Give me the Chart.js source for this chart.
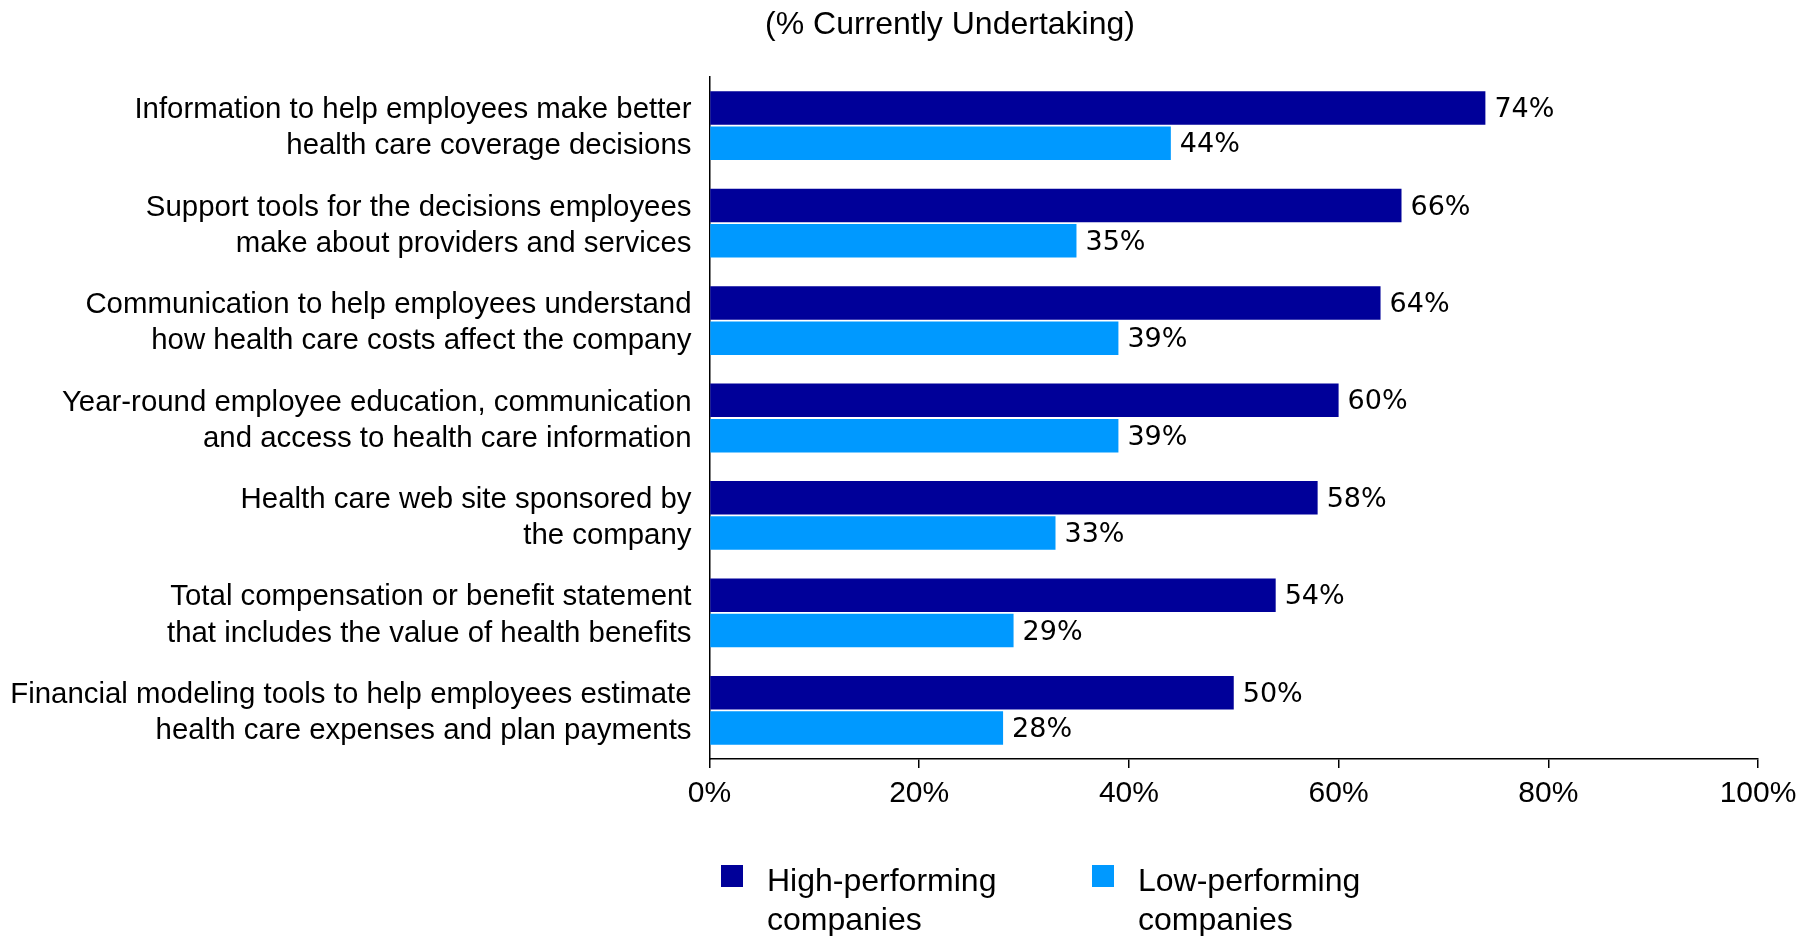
<!DOCTYPE html>
<html><head><meta charset="utf-8">
<script src="https://cdn.jsdelivr.net/npm/chart.js@4"></script>
<style>html,body{margin:0;padding:0;background:#fff;overflow:hidden;}</style>
</head><body>
<canvas id="c" width="1812" height="936"></canvas>
<script>
const categories = [
  ["Information to help employees make better", "health care coverage decisions"],
  ["Support tools for the decisions employees", "make about providers and services"],
  ["Communication to help employees understand", "how health care costs affect the company"],
  ["Year-round employee education, communication", "and access to health care information"],
  ["Health care web site sponsored by", "the company"],
  ["Total compensation or benefit statement", "that includes the value of health benefits"],
  ["Financial modeling tools to help employees estimate", "health care expenses and plan payments"]
];
const highPerforming = [74, 66, 64, 60, 58, 54, 50];
const lowPerforming = [44, 35, 39, 39, 33, 29, 28];
const xTickValues = [0, 20, 40, 60, 80, 100];
const seriesNames = [["High-performing", "companies"], ["Low-performing", "companies"]];
const seriesColors = ["#000099", "#0099FF"];
const titleText = "(% Currently Undertaking)";

const SANS = '"Liberation Sans", Arial, Helvetica, sans-serif';
const VERD = '"DejaVu Sans", Verdana, sans-serif';

const overlay = {
  id: 'overlay',
  afterDatasetsDraw(chart) {
    const ctx = chart.ctx;
    ctx.save();
    ctx.font = '27px ' + VERD;
    ctx.fillStyle = '#000';
    ctx.textAlign = 'left';
    ctx.textBaseline = 'middle';
    chart.data.datasets.forEach((ds, di) => {
      const meta = chart.getDatasetMeta(di);
      meta.data.forEach((bar, i) => {
        ctx.fillText(ds.data[i] + '%', bar.x + 9, bar.y + 2);
      });
    });
    ctx.restore();
  },
  afterDraw(chart) {
    const ctx = chart.ctx;
    ctx.save();
    ctx.font = '32px ' + SANS;
    ctx.fillStyle = '#000';
    ctx.textAlign = 'center';
    ctx.textBaseline = 'middle';
    ctx.fillText(titleText, 950, 25);
    const items = [{sx: 721, tx: 767}, {sx: 1092, tx: 1138}];
    ctx.font = '32px ' + SANS;
    ctx.textAlign = 'left';
    chart.data.datasets.forEach((ds, di) => {
      const it = items[di];
      ctx.fillStyle = ds.backgroundColor;
      ctx.fillRect(it.sx, 865, 22, 22);
      ctx.fillStyle = '#000';
      seriesNames[di].forEach((line, li) => {
        ctx.fillText(line, it.tx, 882 + li * 39);
      });
    });
    ctx.restore();
  }
};

new Chart(document.getElementById('c'), {
  type: 'bar',
  data: {
    labels: categories,
    datasets: [
      { label: seriesNames[0].join(' '), data: highPerforming, backgroundColor: seriesColors[0], borderWidth: 0, categoryPercentage: 0.724, barPercentage: 0.95 },
      { label: seriesNames[1].join(' '), data: lowPerforming, backgroundColor: seriesColors[1], borderWidth: 0, categoryPercentage: 0.724, barPercentage: 0.95 }
    ]
  },
  options: {
    indexAxis: 'y',
    responsive: false,
    animation: false,
    devicePixelRatio: 1,
    layout: { padding: { top: 77, right: 54, bottom: 0, left: 0 } },
    plugins: { legend: { display: false }, title: { display: false }, tooltip: { enabled: false } },
    scales: {
      x: {
        min: 0, max: 100,
        afterBuildTicks(scale) { scale.ticks = xTickValues.map(v => ({ value: v })); },
        ticks: { callback: v => v + '%', color: '#000', font: { family: SANS, size: 30 }, padding: 8, maxRotation: 0 },
        grid: { display: true, drawOnChartArea: false, drawTicks: true, tickLength: 9, color: '#000', lineWidth: 1.5 },
        border: { display: true, color: '#000', width: 1.5 },
        afterFit(scale) { scale.height = 177; }
      },
      y: {
        ticks: { color: '#000', font: { family: SANS, size: 29.4, lineHeight: 1.23 }, padding: 18, autoSkip: false, labelOffset: 2.5 },
        grid: { display: false, drawTicks: false },
        border: { display: true, color: '#000', width: 1.5 },
        afterFit(scale) { scale.width = 709.5; }
      }
    }
  },
  plugins: [overlay]
});
</script>
</body></html>
